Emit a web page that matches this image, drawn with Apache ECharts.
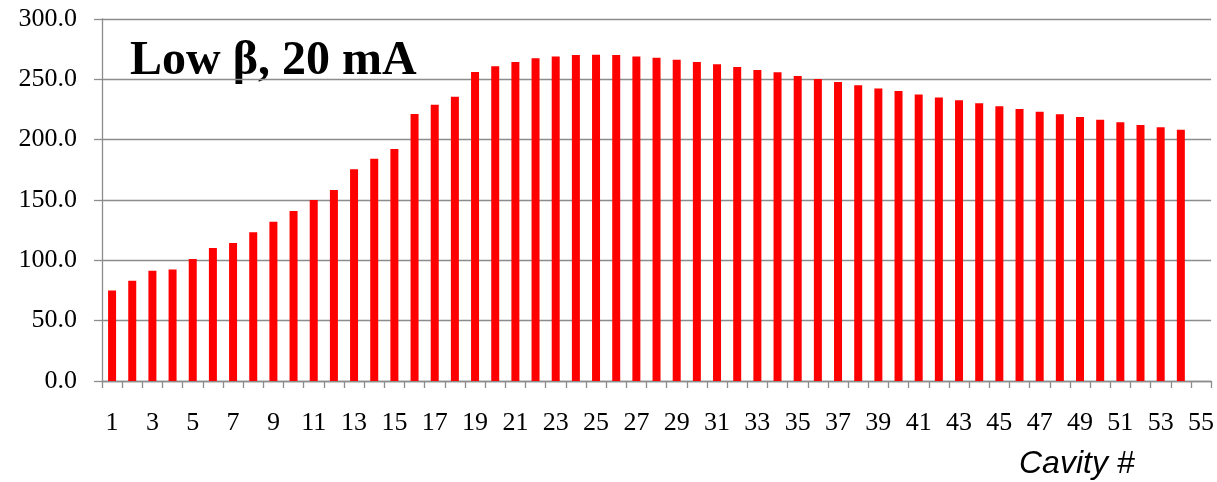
<!DOCTYPE html>
<html>
<head>
<meta charset="utf-8">
<title>Low β, 20 mA</title>
<script src="https://cdn.jsdelivr.net/npm/echarts@6/dist/echarts.min.js"></script>
<style>
  html, body { margin: 0; padding: 0; background: #fff; }
  #chart { width: 1217px; height: 482px; }
</style>
</head>
<body>
<div id="chart"></div>
<script>
// Cavity numbers shown on the x axis (55 slots, 54 cavities populated)
const cavities = Array.from({ length: 55 }, (_, i) => String(i + 1));

// Value per cavity
const values = [
  75, 83, 91.4, 92.5, 101.1, 110.2, 114.4, 123.2, 132, 140.9,
  150, 158.3, 175.4, 184.2, 192.3, 221.3, 229, 235.6, 256.1, 260.8,
  264.4, 267.4, 269.0, 270.2, 270.4, 270.2, 269.0, 267.9, 266.3, 264.4,
  262.4, 260.2, 257.7, 255.8, 252.8, 250.3, 247.8, 245.0, 242.5, 240.3,
  237.5, 235.0, 232.6, 230.1, 227.6, 225.4, 223.2, 221.0, 218.8, 216.6,
  214.4, 212.2, 210.2, 208.3
];

// Y axis range and step
const yMin = 0;
const yMax = 300;
const yStep = 50;

const titleText = 'Low β, 20 mA';
const xAxisTitle = 'Cavity #';

const chart = echarts.init(document.getElementById('chart'), null, { renderer: 'canvas' });

const axisGray = '#8c8c8c';
const tickFont = 'Liberation Serif';

chart.setOption({
  animation: false,
  backgroundColor: '#ffffff',
  grid: { left: 102, right: 5, top: 19, bottom: 101, containLabel: false },
  xAxis: {
    type: 'category',
    data: cavities,
    boundaryGap: true,
    axisLine: { show: true, lineStyle: { color: axisGray, width: 1.3 } },
    axisTick: { show: true, interval: 0, length: 7, lineStyle: { color: axisGray, width: 1.3 } },
    axisLabel: {
      interval: 1,
      margin: 29,
      color: '#000',
      fontFamily: tickFont,
      fontSize: 26
    },
    splitLine: { show: false }
  },
  yAxis: {
    type: 'value',
    min: yMin,
    max: yMax,
    interval: yStep,
    axisLine: { show: true, lineStyle: { color: axisGray, width: 1.3 } },
    axisTick: { show: true, length: 8, lineStyle: { color: axisGray, width: 1.3 } },
    axisLabel: {
      margin: 25,
      color: '#000',
      fontFamily: tickFont,
      fontSize: 26,
      formatter: v => v.toFixed(1)
    },
    splitLine: { show: true, lineStyle: { color: axisGray, width: 1.3 } }
  },
  series: [{
    type: 'bar',
    data: values,
    barWidth: 8,
    itemStyle: { color: '#ff0000' }
  }],
  graphic: [
    {
      type: 'text',
      x: 130,
      y: 61.5,
      style: {
        text: titleText,
        font: 'bold 48px "Liberation Serif"',
        fill: '#000',
        align: 'left',
        verticalAlign: 'middle'
      }
    },
    {
      type: 'text',
      x: 1019,
      y: 464,
      style: {
        text: xAxisTitle,
        font: 'italic 32px "Liberation Sans"',
        fill: '#000',
        align: 'left',
        verticalAlign: 'middle'
      }
    }
  ]
});
</script>
</body>
</html>
